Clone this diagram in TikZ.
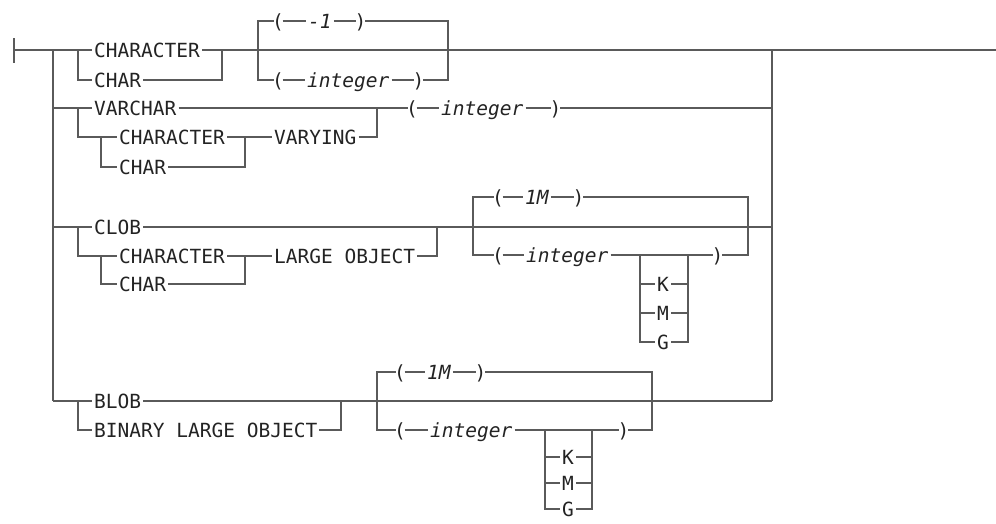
\documentclass[tikz,border=0pt]{standalone}
\usepackage{fontspec}
\setmonofont{DejaVu Sans Mono}
\usepackage{tikz}
\definecolor{ln}{RGB}{90, 90, 90}
\definecolor{tx}{RGB}{35, 35, 35}
\usetikzlibrary{positioning}

\begin{document}
\begin{tikzpicture}[
  rail/.style={line width=1.2pt, color=ln},
  kw/.style={anchor=west, inner xsep=2pt, inner ysep=0pt, text height=14pt, text depth=0pt, text=tx, font=\ttfamily\fontsize{19.5}{20}\selectfont},
  pn/.style={kw, inner xsep=-1.5pt},
  var/.style={kw, font=\ttfamily\itshape\fontsize{19.5}{20}\selectfont}]
\useasboundingbox (0pt, 0pt) rectangle (996pt, -523pt);
% ends and trunks
\coordinate (s0) at (14pt, -50pt);
\coordinate (s1) at (14pt, -38pt);
\coordinate (s2) at (14pt, -63pt);
\coordinate (L1) at (53pt, -50pt);
\coordinate (L2) at (53pt, -108pt);
\coordinate (L3) at (53pt, -227pt);
\coordinate (L4) at (53pt, -401pt);
\coordinate (R1) at (772pt, -50pt);
\coordinate (R2) at (772pt, -108pt);
\coordinate (R3) at (772pt, -227pt);
\coordinate (R4) at (772pt, -401pt);
\coordinate (e) at (996pt, -50pt);
% row 1
\node (a1) [kw] at (92pt, -50pt) {CHARACTER};
\node (a2) [kw] at (92pt, -80pt) {CHAR};
\coordinate (b1) at (78pt, -50pt);
\coordinate (b2) at (222pt, -50pt);
\coordinate (c1) at (258pt, -50pt);
\coordinate (c2) at (448pt, -50pt);
\node (p1) [pn] at (273.5pt, -21pt) {(};
\node (p2) [var] at (306pt, -21pt) {-1};
\node (p3) [pn] at (356pt, -21pt) {)};
\node (q1) [pn] at (273.5pt, -80pt) {(};
\node (q2) [var] at (305pt, -80pt) {integer};
\node (q3) [pn] at (414pt, -80pt) {)};
% row 2
\node (v1) [kw] at (92pt, -108pt) {VARCHAR};
\node (v2) [kw] at (117pt, -137pt) {CHARACTER};
\node (v3) [kw] at (117pt, -167pt) {CHAR};
\node (v4) [kw] at (272pt, -137pt) {VARYING};
\node (v5) [pn] at (407.5pt, -108pt) {(};
\node (v6) [var] at (439pt, -108pt) {integer};
\node (v7) [pn] at (551pt, -108pt) {)};
\coordinate (b4) at (78pt, -108pt);
\coordinate (b6) at (101pt, -137pt);
\coordinate (b7) at (245pt, -137pt);
\coordinate (b8) at (377pt, -108pt);
% row 3
\node (w1) [kw] at (92pt, -227pt) {CLOB};
\node (w2) [kw] at (117pt, -256pt) {CHARACTER};
\node (w3) [kw] at (117pt, -284pt) {CHAR};
\node (w4) [kw] at (272pt, -256pt) {LARGE OBJECT};
\coordinate (b9) at (78pt, -227pt);
\coordinate (b10) at (101pt, -256pt);
\coordinate (b11) at (245pt, -256pt);
\coordinate (b12) at (437pt, -227pt);
\coordinate (c3) at (473pt, -227pt);
\coordinate (c4) at (748pt, -227pt);
\node (f1) [pn] at (493.5pt, -197pt) {(};
\node (f2) [var] at (523pt, -197pt) {1M};
\node (f3) [pn] at (574pt, -197pt) {)};
\node (g1) [pn] at (493.5pt, -255pt) {(};
\node (g2) [var] at (524pt, -255pt) {integer};
\node (g3) [pn] at (713pt, -255pt) {)};
\coordinate (k1) at (640pt, -255pt);
\coordinate (k2) at (688pt, -255pt);
\node (h1) [kw] at (655pt, -284pt) {K};
\node (h2) [kw] at (655pt, -313pt) {M};
\node (h3) [kw] at (655pt, -342pt) {G};
% row 4
\node (x1) [kw] at (92pt, -401pt) {BLOB};
\node (x2) [kw] at (92pt, -430pt) {BINARY LARGE OBJECT};
\coordinate (b13) at (78pt, -401pt);
\coordinate (b14) at (341pt, -401pt);
\coordinate (c5) at (377pt, -401pt);
\coordinate (c6) at (652pt, -401pt);
\node (m1) [pn] at (395.5pt, -372pt) {(};
\node (m2) [var] at (425pt, -372pt) {1M};
\node (m3) [pn] at (476pt, -372pt) {)};
\node (o1) [pn] at (395.5pt, -430pt) {(};
\node (o2) [var] at (428pt, -430pt) {integer};
\node (o3) [pn] at (619pt, -430pt) {)};
\coordinate (k3) at (545pt, -430pt);
\coordinate (k4) at (592pt, -430pt);
\node (r1) [kw] at (560pt, -457pt) {K};
\node (r2) [kw] at (560pt, -483pt) {M};
\node (r3) [kw] at (560pt, -509pt) {G};

\draw [rail] (s1) to (s2);
\draw [rail] (s0) to (a1);
\draw [rail] (L1) to (L4);
\draw [rail] (a1) to (R1);
\draw [rail] (R1) to (e);
\draw [rail] (R1) to (R4);
\draw [rail] (b1) |- (a2);
\draw [rail] (a2) -| (b2);
\draw [rail] (c1) |- (p1);
\draw [rail] (p1) to (p2);
\draw [rail] (p2) to (p3);
\draw [rail] (p3) -| (c2);
\draw [rail] (c1) |- (q1);
\draw [rail] (q1) to (q2);
\draw [rail] (q2) to (q3);
\draw [rail] (q3) -| (c2);

\draw [rail] (L2) to (v1);
\draw [rail] (v1) to (v5);
\draw [rail] (v5) to (v6);
\draw [rail] (v6) to (v7);
\draw [rail] (v7) to (R2);
\draw [rail] (b4) |- (v2);
\draw [rail] (b6) |- (v3);
\draw [rail] (v3) -| (b7);
\draw [rail] (v2) to (v4);
\draw [rail] (v4) -| (b8);

\draw [rail] (L3) to (w1);
\draw [rail] (w1) to (R3);
\draw [rail] (b9) |- (w2);
\draw [rail] (b10) |- (w3);
\draw [rail] (w3) -| (b11);
\draw [rail] (w2) to (w4);
\draw [rail] (w4) -| (b12);
\draw [rail] (c3) |- (f1);
\draw [rail] (f1) to (f2);
\draw [rail] (f2) to (f3);
\draw [rail] (f3) -| (c4);
\draw [rail] (c3) |- (g1);
\draw [rail] (g1) to (g2);
\draw [rail] (g2) to (g3);
\draw [rail] (g3) -| (c4);
\draw [rail] (k1) |- (h1);
\draw [rail] (k1) |- (h2);
\draw [rail] (k1) |- (h3);
\draw [rail] (h1) -| (k2);
\draw [rail] (h2) -| (k2);
\draw [rail] (h3) -| (k2);

\draw [rail] (L4) to (x1);
\draw [rail] (x1) to (R4);
\draw [rail] (b13) |- (x2);
\draw [rail] (x2) -| (b14);
\draw [rail] (c5) |- (m1);
\draw [rail] (m1) to (m2);
\draw [rail] (m2) to (m3);
\draw [rail] (m3) -| (c6);
\draw [rail] (c5) |- (o1);
\draw [rail] (o1) to (o2);
\draw [rail] (o2) to (o3);
\draw [rail] (o3) -| (c6);
\draw [rail] (k3) |- (r1);
\draw [rail] (k3) |- (r2);
\draw [rail] (k3) |- (r3);
\draw [rail] (r1) -| (k4);
\draw [rail] (r2) -| (k4);
\draw [rail] (r3) -| (k4);
\end{tikzpicture}
\end{document}
